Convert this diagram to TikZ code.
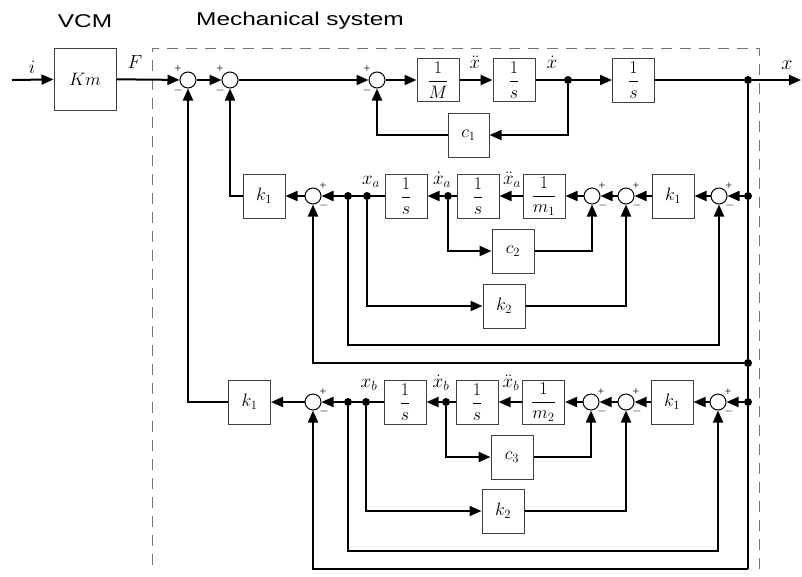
\RequirePackage{fix-cm}
\documentclass[tikz,border=0pt]{standalone}
\usepackage{amsmath}
\usepackage{fontspec}
\setmainfont{Liberation Serif}
\newfontfamily\titlefont{Liberation Sans}
\usetikzlibrary{arrows.meta}
\tikzset{
  blk/.style={draw=black!75, line width=1pt, minimum width=42pt, minimum height=44pt, inner sep=0pt, font=\fontsize{18}{20}\selectfont},
  sumn/.style={circle, draw=black, line width=1pt, minimum size=16pt, inner sep=0pt},
  dotn/.style={circle, fill=black, minimum size=8pt, inner sep=0pt},
  sgn/.style={font=\fontsize{12}{12}\selectfont, inner sep=0pt},
  lab/.style={font=\fontsize{19}{21}\selectfont, inner sep=0pt},
  ttl/.style={font=\titlefont\fontsize{18.5}{20}\selectfont, xscale=1.32, inner sep=0pt},
  ln/.style={line width=2pt},
  arr/.style={line width=2pt, -{Triangle[length=12pt,width=10pt]}},
  dashbox/.style={draw=black!55, line width=0.9pt, dash pattern=on 11pt off 8pt}
}
\newcommand\sumTL[3]{\node[sumn] (#1) at (#2,#3) {};
  \path (#1) ++(-10,-11) node[sgn] {+}; \path (#1) ++(-10,10) node[sgn] {$-$};}
\newcommand\sumTR[3]{\node[sumn] (#1) at (#2,#3) {};
  \path (#1) ++(10,-10) node[sgn] {+}; \path (#1) ++(11,9) node[sgn] {$-$};}
\begin{document}
\begin{tikzpicture}[x=1pt,y=-1pt]
\useasboundingbox (0,0) rectangle (802,576);
% titles
\node[ttl] (tvcm) at (85,21) {VCM};
\node[ttl] (tmech) at (300,21) {Mechanical system};
% dashed frame
\draw[dashbox] (152,565) -- (152,48) -- (759,48) -- (759,576);

% ---------- top row ----------
\coordinate (in) at (12,80);
\coordinate (out) at (801,80);
\node[blk, minimum width=62pt, minimum height=62pt, font=\fontsize{18}{20}\selectfont] (Km) at (85,79) {$Km$};
\sumTL{S1}{188}{80}
\sumTL{S2}{230}{80}
\sumTL{S3}{377}{80}
\node[blk, minimum height=43pt] (M) at (438,80) {$\dfrac{1}{M}$};
\node[blk, minimum height=43pt] (I1) at (514,80) {$\dfrac{1}{s}$};
\node[dotn] (d1) at (568,80) {};
\node[blk] (I2) at (633.5,80) {$\dfrac{1}{s}$};
\node[dotn] (dx) at (748,80) {};
\node[blk, minimum width=41pt] (c1) at (468.5,135) {$c_1$};

\node[lab] (li) at (32,67) {$i$};
\node[lab] (lF) at (135,62) {$F$};
\node[lab] (lxdd) at (475,62) {$\ddot{x}$};
\node[lab] (lxd) at (552,62) {$\dot{x}$};
\node[lab, font=\fontsize{20}{22}\selectfont] (lx) at (787,65) {$x$};

\draw[arr] (in) -- (Km);
\draw[arr] (Km) -- (S1);
\draw[arr] (S1) -- (S2);
\draw[arr] (S2) -- (S3);
\draw[arr] (S3) -- (M);
\draw[arr] (M) -- (I1);
\draw[ln] (I1) -- (d1);
\draw[arr] (d1) -- (I2);
\draw[ln] (I2) -- (dx);
\draw[arr] (dx) -- (out);
\draw[arr] (d1) |- (c1);
\draw[arr] (c1) -| (S3);

% ---------- row a ----------
\node[dotn] (dRa) at (748,196) {};
\sumTR{Sa4}{719}{196}
\node[blk] (k1a) at (673,196) {$k_1$};
\sumTR{Sa3}{626}{196}
\sumTR{Sa2}{592}{196}
\node[blk] (m1) at (544,196) {$\dfrac{1}{m_1}$};
\node[blk] (Ia2) at (478,196) {$\dfrac{1}{s}$};
\node[dotn] (dva) at (448,196) {};
\node[blk] (Ia1) at (406,196) {$\dfrac{1}{s}$};
\node[dotn] (xa) at (367,196) {};
\node[dotn] (pa) at (348,196) {};
\sumTR{Sa1}{313}{196}
\node[blk] (k1aL) at (264,196) {$k_1$};
\node[blk] (c2) at (513,251) {$c_2$};
\node[blk] (k2a) at (504,306) {$k_2$};
\node[dotn] (dca) at (748,363) {};
\coordinate (ca) at (719,345);

\node[lab] (lxa) at (371,182) {$x_a$};
\node[lab] (lxad) at (442,180) {$\dot{x}_a$};
\node[lab] (lxadd) at (512,180) {$\ddot{x}_a$};

\draw[arr] (dRa) -- (Sa4);
\draw[arr] (Sa4) -- (k1a);
\draw[arr] (k1a) -- (Sa3);
\draw[arr] (Sa3) -- (Sa2);
\draw[arr] (Sa2) -- (m1);
\draw[arr] (m1) -- (Ia2);
\draw[ln] (Ia2) -- (dva);
\draw[arr] (dva) -- (Ia1);
\draw[ln] (Ia1) -- (xa) -- (pa);
\draw[arr] (pa) -- (Sa1);
\draw[arr] (Sa1) -- (k1aL);
\draw[arr] (k1aL.west) -| (S2);
\draw[arr] (dva) |- (c2);
\draw[arr] (c2) -| (Sa2);
\draw[arr] (xa) |- (k2a);
\draw[arr] (k2a) -| (Sa3);
\draw[arr] (pa) |- (ca) -- (Sa4);
\draw[arr] (dca) -| (Sa1);

% ---------- row b ----------
\node[dotn] (dRb) at (748,402) {};
\sumTR{Sb4}{718}{402}
\node[blk] (k1b) at (672,402) {$k_1$};
\sumTR{Sb3}{626}{402}
\sumTR{Sb2}{591}{402}
\node[blk] (m2) at (543.5,402) {$\dfrac{1}{m_2}$};
\node[blk] (Ib2) at (477,402) {$\dfrac{1}{s}$};
\node[dotn] (dvb) at (446,402) {};
\node[blk] (Ib1) at (405,402) {$\dfrac{1}{s}$};
\node[dotn] (xb) at (366,402) {};
\node[dotn] (pb) at (348,402) {};
\sumTR{Sb1}{313}{402}
\node[blk] (k1bL) at (249.5,402) {$k_1$};
\node[blk] (c3) at (512,457) {$c_3$};
\node[blk] (k2b) at (503,511) {$k_2$};
\coordinate (cb) at (718,551);
\coordinate (bc) at (748,569);

\node[lab] (lxb) at (369,385) {$x_b$};
\node[lab] (lxbd) at (441,383) {$\dot{x}_b$};
\node[lab] (lxbdd) at (511,383) {$\ddot{x}_b$};

\draw[arr] (dRb) -- (Sb4);
\draw[arr] (Sb4) -- (k1b);
\draw[arr] (k1b) -- (Sb3);
\draw[arr] (Sb3) -- (Sb2);
\draw[arr] (Sb2) -- (m2);
\draw[arr] (m2) -- (Ib2);
\draw[ln] (Ib2) -- (dvb);
\draw[arr] (dvb) -- (Ib1);
\draw[ln] (Ib1) -- (xb) -- (pb);
\draw[arr] (pb) -- (Sb1);
\draw[arr] (Sb1) -- (k1bL);
\draw[arr] (k1bL.west) -| (S1);
\draw[arr] (dvb) |- (c3);
\draw[arr] (c3) -| (Sb2);
\draw[arr] (xb) |- (k2b);
\draw[arr] (k2b) -| (Sb3);
\draw[arr] (pb) |- (cb) -- (Sb4);
\draw[arr] (bc) -| (Sb1);

% right vertical bus
\draw[ln] (dx) -- (dRa) -- (dca) -- (dRb) -- (bc);
\end{tikzpicture}
\end{document}
